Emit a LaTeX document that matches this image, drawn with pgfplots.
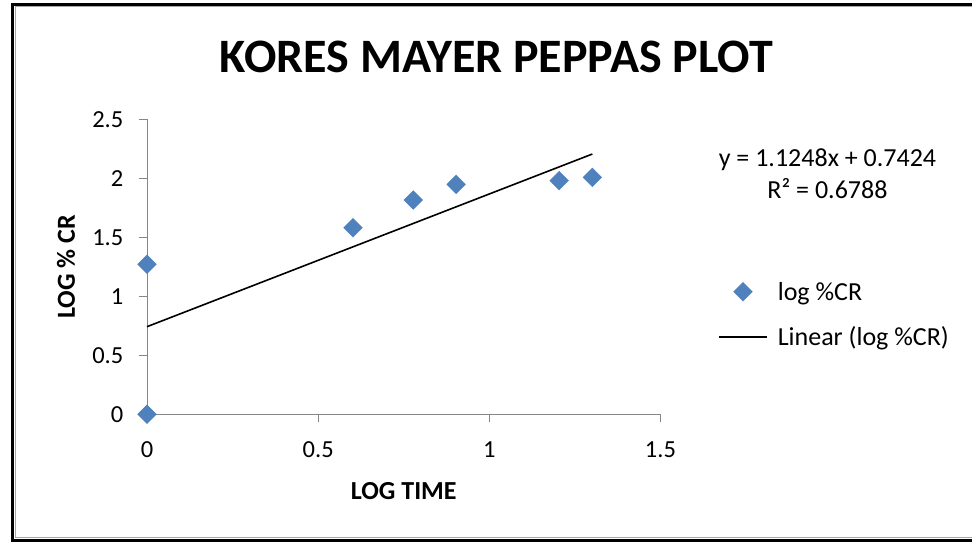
\documentclass[border=0pt]{standalone}
\usepackage{fontspec}
\setmainfont{Carlito}
\usepackage{pgfplots}
\pgfplotsset{compat=1.18}
\definecolor{exblue}{HTML}{4F81BD}
\definecolor{axgray}{HTML}{868686}
\begin{document}
\begin{tikzpicture}[x=1pt,y=1pt]
\useasboundingbox (0,0) rectangle (972,542);
\draw[black!35, line width=1.2pt] (972,535.3) -- (15.2,535.3) -- (15.2,4.5) -- (972,4.5);
\draw[black, line width=3pt] (972,537.3) -- (12.2,537.3) -- (12.2,1.7) -- (972,1.7);
\begin{axis}[
  at={(147pt,127.7pt)}, anchor=south west,
  scale only axis, width=513.5pt, height=295pt,
  xmin=0, xmax=1.5, ymin=0, ymax=2.5,
  xtick={0,0.5,1,1.5}, ytick={0,0.5,1,1.5,2,2.5},
  axis lines*=left,
  axis line style={axgray, line width=1pt},
  tick align=outside, major tick length=8pt,
  tick style={axgray, line width=1pt},
  /pgf/number format/assume math mode=true,
  ticklabel style={font=\fontsize{24.5}{28}\selectfont, inner sep=0pt},
  xticklabel style={anchor=center, yshift=-27.7pt},
  yticklabel style={anchor=east, xshift=-15.5pt},
  xlabel={\textbf{LOG TIME}},
  ylabel={\textbf{LOG \% CR}},
  xlabel style={font=\fontsize{26}{30}\selectfont, at={(axis description cs:0.5,-0.26)}, anchor=center, inner sep=0pt},
  ylabel style={font=\fontsize{26}{30}\selectfont, at={(axis description cs:-0.1577,0.5)}, anchor=center, inner sep=0pt},
  clip=false,
  legend image code/.code={\draw[mark repeat=2,mark phase=2,#1] plot coordinates {(0pt,0pt) (24pt,0pt) (48pt,0pt)};},
  legend style={at={(axis description cs:1.112,0.3383)}, anchor=west, draw=none, fill=none,
    inner sep=0pt, nodes={inner sep=0pt}, row sep=25pt, column sep=10pt,
    font=\fontsize{26}{30}\selectfont},
  legend cell align=left,
]
\addplot[only marks, mark=square*, mark size=6.6pt,
  mark options={rotate=45, fill=exblue, draw=exblue}]
  coordinates {(0,0) (0,1.271) (0.602,1.581) (0.778,1.816) (0.903,1.949) (1.204,1.980) (1.301,2.008)};
\addlegendentry{log \%CR}
\addplot[black, line width=1.6pt] coordinates {(0,0.7424) (1.301,2.2058)};
\addlegendentry{Linear (log \%CR)}
\node[font=\fontsize{26}{32}\selectfont, align=center] at (axis description cs:1.3252,0.8146)
  {y = 1.1248x + 0.7424\\R² = 0.6788};
\end{axis}
\node[font=\bfseries\fontsize{48}{50}\selectfont] at (496.5,485) {KORES MAYER PEPPAS PLOT};
\end{tikzpicture}
\end{document}
